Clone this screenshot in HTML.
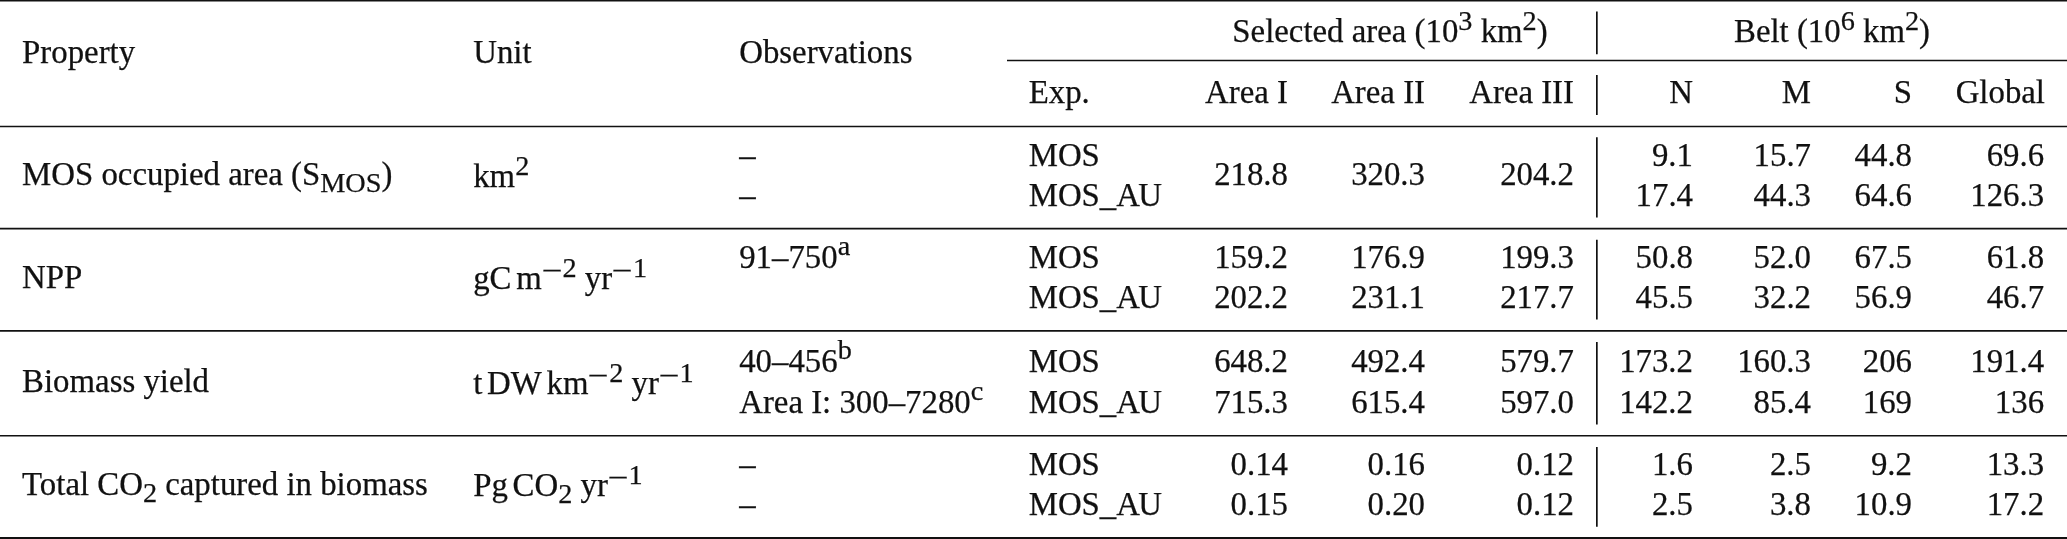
<!DOCTYPE html><html><head><meta charset="utf-8"><title>Table</title><style>
html,body{margin:0;padding:0;background:#fff;}
body{width:2067px;height:539px;position:relative;overflow:hidden;font-family:"Liberation Serif","Times New Roman",serif;font-size:32.85px;color:#111;}
#w{position:absolute;left:0;top:0;width:2067px;height:539px;will-change:transform;}
svg{position:absolute;left:0;top:0;}
.t{position:absolute;white-space:nowrap;-webkit-text-stroke:0.25px #111;line-height:40px;height:40px;}
sup{font-size:0.86em;line-height:0;vertical-align:0.41em;}
sup.x{vertical-align:0.46em;}
sub{font-size:0.86em;line-height:0;vertical-align:-0.238em;}
.ts{display:inline-block;width:0.145em;}
.k{margin-left:-0.055em;}
.mn{display:inline-block;width:0.733em;transform:translateY(0.095em) scaleX(1.3);transform-origin:0 50%;}

</style></head><body><div id="w">
<svg width="2067" height="539" viewBox="0 0 2067 539" stroke="#111" fill="none">
<line x1="0.0" y1="0.75" x2="2067.0" y2="0.75" stroke-width="1.50"/>
<line x1="1007.0" y1="60.50" x2="2067.0" y2="60.50" stroke-width="1.60"/>
<line x1="0.0" y1="126.50" x2="2067.0" y2="126.50" stroke-width="1.60"/>
<line x1="0.0" y1="228.60" x2="2067.0" y2="228.60" stroke-width="1.60"/>
<line x1="0.0" y1="330.85" x2="2067.0" y2="330.85" stroke-width="1.70"/>
<line x1="0.0" y1="435.70" x2="2067.0" y2="435.70" stroke-width="1.60"/>
<line x1="0.0" y1="538.10" x2="2067.0" y2="538.10" stroke-width="2.00"/>
<line x1="1596.85" y1="11.5" x2="1596.85" y2="54.3" stroke-width="1.7"/>
<line x1="1596.85" y1="74.9" x2="1596.85" y2="115.0" stroke-width="1.7"/>
<line x1="1596.85" y1="137.3" x2="1596.85" y2="217.6" stroke-width="1.7"/>
<line x1="1596.85" y1="239.7" x2="1596.85" y2="319.6" stroke-width="1.7"/>
<line x1="1596.85" y1="341.9" x2="1596.85" y2="424.6" stroke-width="1.7"/>
<line x1="1596.85" y1="446.9" x2="1596.85" y2="526.8" stroke-width="1.7"/>
</svg>
<div class="t" style="left:22.1px;top:32.00px">Property</div>
<div class="t" style="left:473.2px;top:32.00px">Unit</div>
<div class="t" style="left:739.2px;top:32.00px">Observations</div>
<div class="t" style="left:1090.0px;width:600px;text-align:center;top:11.00px">Selected area (10<sup>3</sup> km<sup>2</sup>)</div>
<div class="t" style="left:1532.0px;width:600px;text-align:center;top:11.00px">Belt (10<sup>6</sup> km<sup>2</sup>)</div>
<div class="t" style="left:1028.7px;top:72.00px">Exp.</div>
<div class="t" style="right:779.0px;top:72.00px">Area I</div>
<div class="t" style="right:642.0px;top:72.00px">Area II</div>
<div class="t" style="right:493.0px;top:72.00px">Area III</div>
<div class="t" style="right:374.0px;top:72.00px">N</div>
<div class="t" style="right:256.0px;top:72.00px">M</div>
<div class="t" style="right:155.0px;top:72.00px">S</div>
<div class="t" style="right:22.0px;top:72.00px">Global</div>
<div class="t" style="left:22.1px;top:154.00px">MOS occupied area (S<sub>MOS</sub>)</div>
<div class="t" style="left:473.2px;top:156.00px">km<sup>2</sup></div>
<div class="t" style="left:739.2px;top:135.00px">–</div>
<div class="t" style="left:739.2px;top:175.00px">–</div>
<div class="t" style="left:1028.7px;top:135.00px">MOS</div>
<div class="t" style="left:1028.7px;top:175.00px">MOS_A<span class="k">U</span></div>
<div class="t" style="right:374.0px;top:135.00px">9.1</div>
<div class="t" style="right:374.0px;top:175.00px">17.4</div>
<div class="t" style="right:256.0px;top:135.00px">15.7</div>
<div class="t" style="right:256.0px;top:175.00px">44.3</div>
<div class="t" style="right:155.0px;top:135.00px">44.8</div>
<div class="t" style="right:155.0px;top:175.00px">64.6</div>
<div class="t" style="right:22.9px;top:135.00px">69.6</div>
<div class="t" style="right:22.9px;top:175.00px">126.3</div>
<div class="t" style="right:779.0px;top:154.00px">218.8</div>
<div class="t" style="right:642.0px;top:154.00px">320.3</div>
<div class="t" style="right:493.0px;top:154.00px">204.2</div>
<div class="t" style="left:22.1px;top:257.00px">NPP</div>
<div class="t" style="left:473.2px;top:258.00px">gC<span class="ts"></span>m<sup><span class="mn">−</span>2</sup> yr<sup><span class="mn">−</span>1</sup></div>
<div class="t" style="left:739.2px;top:237.00px">91–750<sup class="x">a</sup></div>
<div class="t" style="left:1028.7px;top:237.00px">MOS</div>
<div class="t" style="left:1028.7px;top:277.00px">MOS_A<span class="k">U</span></div>
<div class="t" style="right:779.0px;top:237.00px">159.2</div>
<div class="t" style="right:779.0px;top:277.00px">202.2</div>
<div class="t" style="right:642.0px;top:237.00px">176.9</div>
<div class="t" style="right:642.0px;top:277.00px">231.1</div>
<div class="t" style="right:493.0px;top:237.00px">199.3</div>
<div class="t" style="right:493.0px;top:277.00px">217.7</div>
<div class="t" style="right:374.0px;top:237.00px">50.8</div>
<div class="t" style="right:374.0px;top:277.00px">45.5</div>
<div class="t" style="right:256.0px;top:237.00px">52.0</div>
<div class="t" style="right:256.0px;top:277.00px">32.2</div>
<div class="t" style="right:155.0px;top:237.00px">67.5</div>
<div class="t" style="right:155.0px;top:277.00px">56.9</div>
<div class="t" style="right:22.9px;top:237.00px">61.8</div>
<div class="t" style="right:22.9px;top:277.00px">46.7</div>
<div class="t" style="left:22.1px;top:361.00px">Biomass yield</div>
<div class="t" style="left:473.2px;top:363.00px">t<span class="ts"></span>DW<span class="ts"></span>km<sup><span class="mn">−</span>2</sup> yr<sup><span class="mn">−</span>1</sup></div>
<div class="t" style="left:739.2px;top:341.00px">40–456<sup class="x">b</sup></div>
<div class="t" style="left:739.2px;top:382.00px">Area I: 300–7280<sup class="x">c</sup></div>
<div class="t" style="left:1028.7px;top:341.00px">MOS</div>
<div class="t" style="left:1028.7px;top:382.00px">MOS_A<span class="k">U</span></div>
<div class="t" style="right:779.0px;top:341.00px">648.2</div>
<div class="t" style="right:779.0px;top:382.00px">715.3</div>
<div class="t" style="right:642.0px;top:341.00px">492.4</div>
<div class="t" style="right:642.0px;top:382.00px">615.4</div>
<div class="t" style="right:493.0px;top:341.00px">579.7</div>
<div class="t" style="right:493.0px;top:382.00px">597.0</div>
<div class="t" style="right:374.0px;top:341.00px">173.2</div>
<div class="t" style="right:374.0px;top:382.00px">142.2</div>
<div class="t" style="right:256.0px;top:341.00px">160.3</div>
<div class="t" style="right:256.0px;top:382.00px">85.4</div>
<div class="t" style="right:155.0px;top:341.00px">206</div>
<div class="t" style="right:155.0px;top:382.00px">169</div>
<div class="t" style="right:22.9px;top:341.00px">191.4</div>
<div class="t" style="right:22.9px;top:382.00px">136</div>
<div class="t" style="left:22.1px;top:464.00px">Total CO<sub>2</sub> captured in biomass</div>
<div class="t" style="left:473.2px;top:465.00px">Pg<span class="ts"></span>CO<sub>2</sub> yr<sup><span class="mn">−</span>1</sup></div>
<div class="t" style="left:739.2px;top:444.00px">–</div>
<div class="t" style="left:739.2px;top:484.00px">–</div>
<div class="t" style="left:1028.7px;top:444.00px">MOS</div>
<div class="t" style="left:1028.7px;top:484.00px">MOS_A<span class="k">U</span></div>
<div class="t" style="right:779.0px;top:444.00px">0.14</div>
<div class="t" style="right:779.0px;top:484.00px">0.15</div>
<div class="t" style="right:642.0px;top:444.00px">0.16</div>
<div class="t" style="right:642.0px;top:484.00px">0.20</div>
<div class="t" style="right:493.0px;top:444.00px">0.12</div>
<div class="t" style="right:493.0px;top:484.00px">0.12</div>
<div class="t" style="right:374.0px;top:444.00px">1.6</div>
<div class="t" style="right:374.0px;top:484.00px">2.5</div>
<div class="t" style="right:256.0px;top:444.00px">2.5</div>
<div class="t" style="right:256.0px;top:484.00px">3.8</div>
<div class="t" style="right:155.0px;top:444.00px">9.2</div>
<div class="t" style="right:155.0px;top:484.00px">10.9</div>
<div class="t" style="right:22.9px;top:444.00px">13.3</div>
<div class="t" style="right:22.9px;top:484.00px">17.2</div>
</div></body></html>
